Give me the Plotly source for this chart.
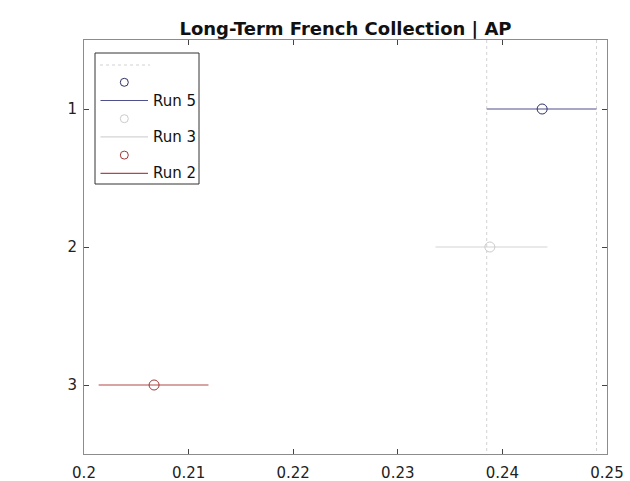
import plotly.graph_objects as go

runs = ["Run 5", "Run 3", "Run 2"]
ypos = [1, 2, 3]
means = [0.2438, 0.2388, 0.2067]
lows = [0.2385, 0.2336, 0.2014]
highs = [0.2490, 0.2443, 0.2119]
ref_x = [0.2385, 0.2490]
line_colors = ["#50508c", "#d4d4d4", "#b04848"]
marker_colors = ["#303068", "#cccccc", "#a03a3a"]

W, H = 630, 481
L, R, T, B = 84, 607, 40, 454

fig = go.Figure()

# reference dotted lines
for rx in ref_x:
    fig.add_trace(go.Scatter(x=[rx, rx], y=[0.5, 3.5], mode="lines",
                             line=dict(color="#d2d2d2", width=1, dash="dot"),
                             showlegend=False, hoverinfo="skip"))

for r, y, m, lo, hi, lc, mc in zip(runs, ypos, means, lows, highs, line_colors, marker_colors):
    fig.add_trace(go.Scatter(x=[lo, hi], y=[y, y], mode="lines",
                             line=dict(color=lc, width=1.2), showlegend=False))
    fig.add_trace(go.Scatter(x=[m], y=[y], mode="markers",
                             marker=dict(symbol="circle-open", size=10, color=mc, line=dict(width=1)),
                             showlegend=False))


def px(xp):
    return (xp - L) / (R - L)


def py(yp):
    return (B - yp) / (B - T)


shapes = []
annotations = []
# legend box
shapes.append(dict(type="rect", xref="paper", yref="paper", x0=px(95), x1=px(199),
                   y0=py(184), y1=py(53), line=dict(color="#333333", width=1),
                   fillcolor="white", layer="above"))
# dotted entry
shapes.append(dict(type="line", xref="paper", yref="paper", x0=px(100), x1=px(150),
                   y0=py(65), y1=py(65), line=dict(color="#d2d2d2", width=1, dash="dot"),
                   layer="above"))
row0 = 82.3
step = 36.4
for i, (r, lc, mc) in enumerate(zip(runs, line_colors, marker_colors)):
    ym = row0 + i * step
    yl = ym + 18.2
    shapes.append(dict(type="circle", xref="paper", yref="paper",
                       x0=px(120.3), x1=px(128.3), y0=py(ym + 4), y1=py(ym - 4),
                       line=dict(color=mc, width=1), layer="above"))
    shapes.append(dict(type="line", xref="paper", yref="paper", x0=px(100.5), x1=px(148),
                       y0=py(yl), y1=py(yl), line=dict(color=lc, width=1.2), layer="above"))
    annotations.append(dict(text=r, xref="paper", yref="paper", x=px(151), y=py(yl),
                            xanchor="left", yanchor="middle", showarrow=False,
                            font=dict(size=15, color="#111111")))

fig.update_layout(
    width=W, height=H,
    margin=dict(l=L, r=W - R, t=T, b=H - B),
    paper_bgcolor="white", plot_bgcolor="white",
    font=dict(family="DejaVu Sans", size=15, color="#222222"),
    title=dict(text="<b>Long-Term French Collection | AP</b>", x=0.5, xanchor="center",
               xref="paper", y=1, yref="paper", yanchor="bottom", pad=dict(b=5),
               font=dict(size=18, color="#111111")),
    showlegend=False,
    shapes=shapes,
    annotations=annotations,
    xaxis=dict(range=[0.2, 0.25], tickvals=[0.2, 0.21, 0.22, 0.23, 0.24, 0.25],
               ticktext=["0.2", "0.21", "0.22", "0.23", "0.24", "0.25"],
               showgrid=False, zeroline=False, showline=True, mirror="ticks",
               linecolor="#8c8c8c", linewidth=1, ticks="inside", ticklen=5,
               tickcolor="#444444", ticklabelstandoff=5, automargin=False),
    yaxis=dict(range=[3.5, 0.5], tickvals=[1, 2, 3], showgrid=False, zeroline=False,
               showline=True, mirror="ticks", linecolor="#8c8c8c", linewidth=1,
               ticks="inside", ticklen=5, tickcolor="#444444", ticklabelstandoff=3,
               automargin=False),
)

fig.write_html("out.html", config={"displayModeBar": False},
               post_script="document.body.style.margin='0';")
